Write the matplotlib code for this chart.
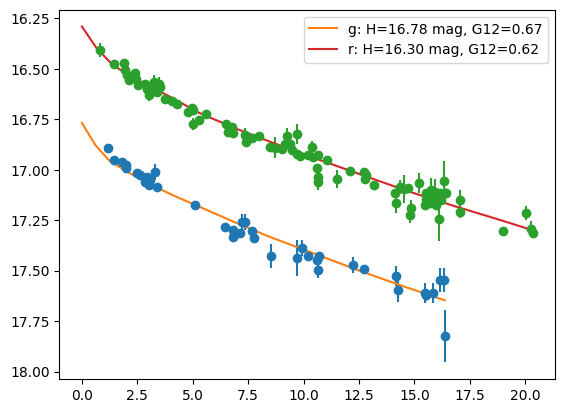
import numpy as np
import matplotlib
matplotlib.use("Agg")
import matplotlib.pyplot as plt

# g band observations: phase angle (deg), magnitude, error
g_phase = [1.18, 1.43, 1.81, 1.99, 1.99, 2.48, 2.64, 2.86, 2.93, 3.01, 3.08, 3.28, 3.38,
           5.08, 6.46, 6.83, 6.92, 6.83, 7.14, 7.21, 7.36, 7.66, 7.78, 8.54, 9.71, 9.91,
           10.22, 10.59, 10.69, 10.66, 12.24, 12.73, 14.15, 14.26, 15.46, 15.54, 15.84,
           16.14, 16.34, 16.37]
g_mag = [16.894, 16.952, 16.960, 16.977, 16.993, 17.015, 17.026, 17.059, 17.034, 17.075,
         17.050, 17.010, 17.087, 17.174, 17.285, 17.300, 17.320, 17.331, 17.314, 17.260,
         17.260, 17.303, 17.339, 17.426, 17.438, 17.388, 17.426, 17.446, 17.425, 17.496,
         17.470, 17.490, 17.525, 17.595, 17.610, 17.619, 17.610, 17.545, 17.545, 17.825]
g_err = [0.01, 0.01, 0.01, 0.01, 0.01, 0.01, 0.01, 0.01, 0.01, 0.01, 0.01, 0.04, 0.01,
         0.01, 0.01, 0.01, 0.01, 0.01, 0.01, 0.04, 0.04, 0.01, 0.01, 0.06, 0.09, 0.04,
         0.01, 0.01, 0.01, 0.04, 0.04, 0.01, 0.05, 0.06, 0.05, 0.03, 0.05, 0.06, 0.06, 0.13]

# r band observations
r_phase = [0.80, 1.43, 1.92, 1.95, 2.04, 2.11, 2.41, 2.46, 2.55, 2.86, 2.93, 3.01, 3.15,
           3.24, 3.38, 3.53, 3.46, 3.76, 4.06, 4.28, 4.80, 4.96, 4.99, 5.03, 5.29, 5.62,
           6.50, 6.61, 6.76, 6.83, 7.36, 7.39, 7.66, 7.99, 8.48, 8.71, 9.01, 9.17, 9.24,
           9.39, 9.46, 9.69, 9.69, 9.84, 10.22, 10.36, 10.44, 10.66, 11.04, 10.59, 10.66,
           10.66, 11.49, 12.09, 12.73, 12.83, 12.76, 13.17, 14.12, 14.17, 14.34, 14.52,
           14.72, 14.86, 14.79, 15.19, 15.54, 15.54, 15.46, 15.69, 15.77, 15.84, 15.92,
           15.92, 15.96, 16.07, 16.14, 16.22, 16.33, 16.37, 16.44, 16.11, 17.04, 17.07,
           19.00, 20.02, 20.27, 20.34]
r_mag = [16.405, 16.477, 16.469, 16.507, 16.532, 16.556, 16.523, 16.548, 16.581, 16.573,
         16.598, 16.631, 16.606, 16.565, 16.614, 16.589, 16.573, 16.647, 16.659, 16.675,
         16.713, 16.696, 16.775, 16.705, 16.754, 16.723, 16.771, 16.812, 16.790, 16.820,
         16.830, 16.862, 16.845, 16.835, 16.886, 16.890, 16.897, 16.874, 16.835, 16.870,
         16.902, 16.822, 16.922, 16.932, 16.927, 16.886, 16.935, 16.927, 16.952, 16.993,
         17.034, 17.059, 17.047, 17.005, 17.010, 17.026, 17.045, 17.076, 17.117, 17.165,
         17.087, 17.095, 17.092, 17.190, 17.224, 17.065, 17.117, 17.145, 17.174, 17.165,
         17.100, 17.133, 17.108, 17.150, 17.175, 17.150, 17.117, 17.150, 17.056, 17.117,
         17.117, 17.245, 17.150, 17.207, 17.303, 17.215, 17.293, 17.314]
r_err = [0.035, 0.01, 0.01, 0.01, 0.01, 0.01, 0.01, 0.01, 0.01, 0.015, 0.01, 0.03, 0.01,
         0.035, 0.01, 0.01, 0.035, 0.01, 0.01, 0.01, 0.01, 0.01, 0.03, 0.01, 0.01, 0.01,
         0.01, 0.01, 0.01, 0.01, 0.035, 0.01, 0.01, 0.01, 0.01, 0.05, 0.01, 0.01, 0.04,
         0.01, 0.01, 0.05, 0.01, 0.01, 0.01, 0.03, 0.01, 0.01, 0.01, 0.01, 0.01, 0.04,
         0.045, 0.01, 0.01, 0.03, 0.01, 0.01, 0.02, 0.05, 0.035, 0.07, 0.01, 0.04, 0.04,
         0.05, 0.01, 0.01, 0.01, 0.02, 0.06, 0.01, 0.06, 0.01, 0.02, 0.01, 0.01, 0.02,
         0.10, 0.01, 0.01, 0.11, 0.05, 0.03, 0.01, 0.035, 0.04, 0.01]

# fitted H-G12 model curves
g_model_phase = [0, 0.61, 1.24, 2.08, 3.13, 4.18, 5.23, 6.81, 8.39, 10.49, 12.59, 14.70,
                 16.37]
g_model_mag = [16.768, 16.878, 16.955, 17.012, 17.075, 17.130, 17.180, 17.256, 17.329,
               17.416, 17.503, 17.585, 17.647]
r_model_phase = [0, 0.68, 1.39, 2.08, 3.13, 4.18, 5.23, 6.81, 8.39, 10.49, 12.59, 14.70,
                 16.80, 18.90, 20.34]
r_model_mag = [16.29, 16.40, 16.48, 16.53, 16.59, 16.65, 16.715, 16.79, 16.857, 16.942,
               17.024, 17.106, 17.18, 17.25, 17.30]

fig, ax = plt.subplots(figsize=(6.4, 4.8), dpi=100)

ax.errorbar(g_phase, g_mag, yerr=g_err, fmt='o')
ax.plot(g_model_phase, g_model_mag, label='g: H=16.78 mag, G12=0.67')
ax.errorbar(r_phase, r_mag, yerr=r_err, fmt='o')
ax.plot(r_model_phase, r_model_mag, label='r: H=16.30 mag, G12=0.62')

ax.invert_yaxis()
ax.legend(loc='upper right')

fig.savefig('out.png', bbox_inches='tight')
